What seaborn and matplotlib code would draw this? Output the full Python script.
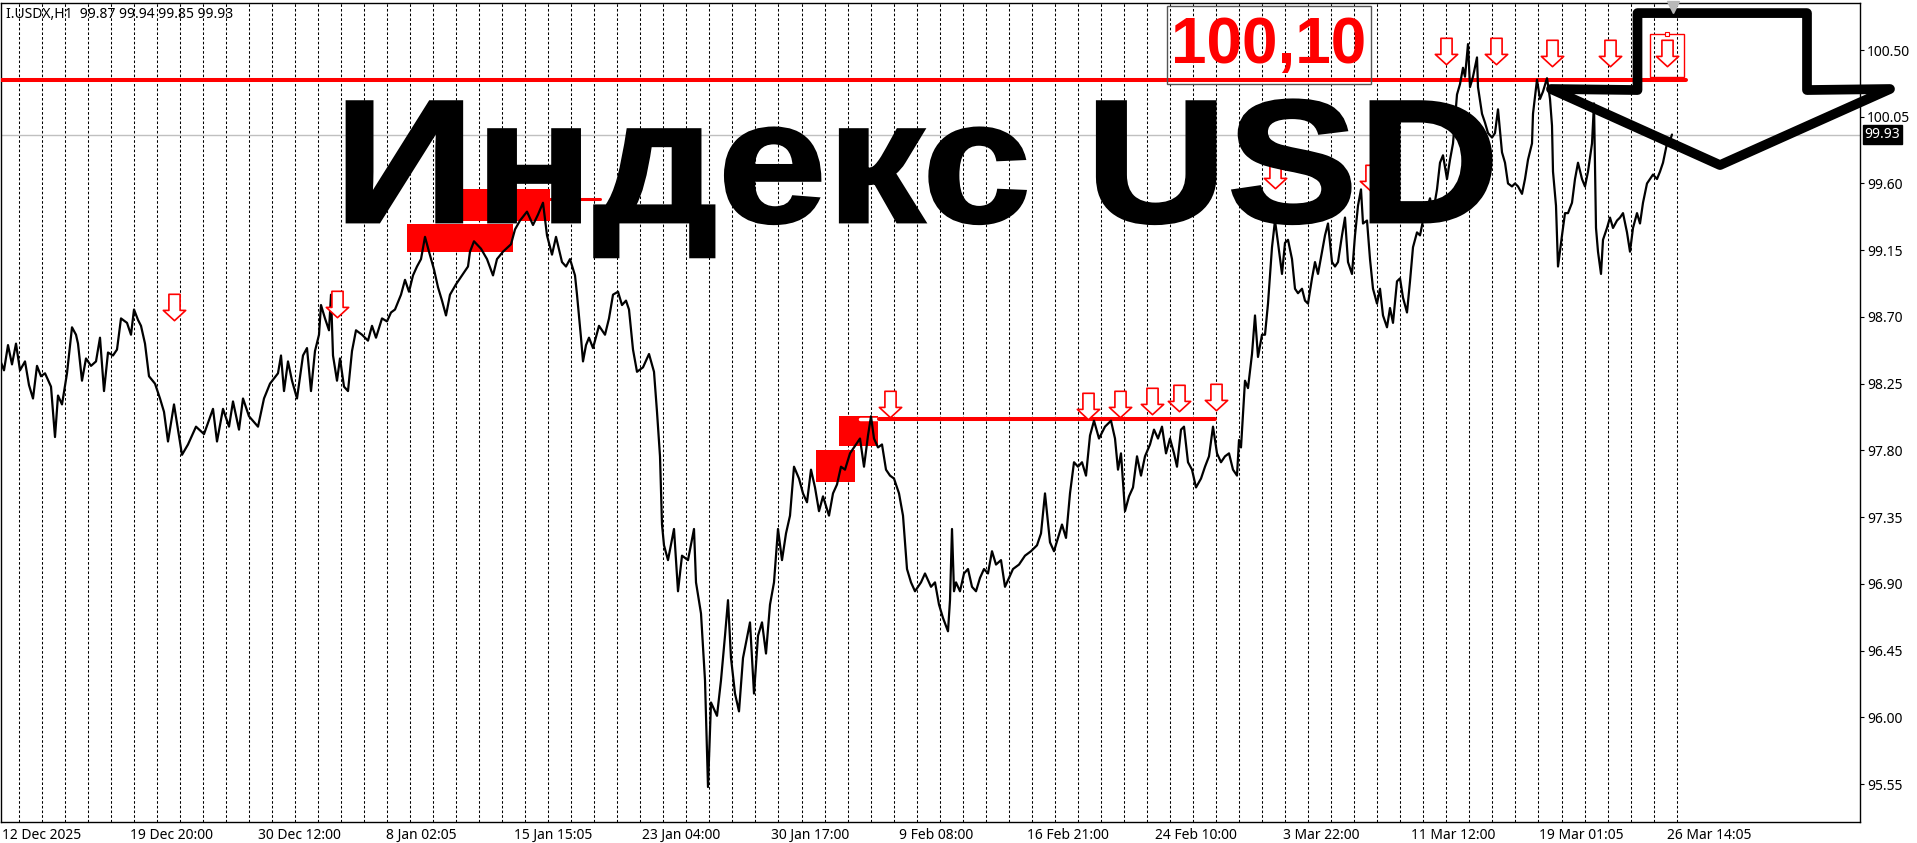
import matplotlib
matplotlib.use('Agg')
import matplotlib.pyplot as plt
import matplotlib.transforms as mtransforms
from matplotlib.patches import Rectangle, Polygon, PathPatch
from matplotlib.path import Path
from matplotlib.textpath import TextPath
from matplotlib.font_manager import FontProperties
import seaborn as sb
import pandas as pd
import numpy as np

# plot style
sb.set_style("white")
plt.rcParams['font.family'] = ['Noto Sans', 'DejaVu Sans']

# I.USDX H1 prices (bar index, price)
bar = [0, 4, 8, 12, 16, 20, 25, 29, 33, 37, 41, 45, 51, 55, 58, 62, 67, 72, 76, 78,
       82, 86, 91, 96, 100, 104, 108, 113, 117, 121, 127, 131, 134, 138, 141, 145, 149, 155, 160, 164,
       168, 174, 178, 182, 188, 196, 204, 213, 217, 223, 229, 233, 239, 243, 249, 258, 264, 270, 278, 281,
       284, 288, 292, 297, 303, 307, 311, 315, 319, 321, 325, 329, 331, 333, 337, 340, 344, 348, 352, 356,
       362, 368, 372, 376, 382, 387, 391, 395, 401, 405, 409, 413, 417, 421, 425, 429, 434, 438, 442, 446,
       450, 456, 462, 468, 470, 474, 481, 487, 493, 497, 503, 511, 515, 520, 527, 533, 538, 543, 547, 552,
       556, 562, 566, 570, 575, 577, 581, 583, 586, 589, 593, 599, 605, 609, 613, 618, 622, 626, 629, 633,
       637, 643, 649, 654, 657, 660, 662, 664, 668, 674, 678, 682, 688, 694, 696, 701, 705, 708, 711, 717,
       721, 725, 728, 731, 735, 739, 743, 750, 754, 758, 762, 766, 770, 774, 778, 782, 786, 790, 794, 799,
       803, 807, 811, 815, 819, 823, 829, 833, 837, 841, 845, 850, 856, 860, 864, 868, 871, 874, 878, 882,
       886, 890, 894, 899, 903, 907, 911, 915, 921, 925, 931, 935, 939, 943, 948, 950, 952, 954, 956, 960,
       964, 968, 972, 976, 980, 984, 988, 992, 996, 1001, 1005, 1009, 1013, 1019, 1025, 1031, 1037, 1041, 1045, 1050,
       1054, 1058, 1062, 1066, 1070, 1074, 1078, 1082, 1086, 1090, 1094, 1099, 1105, 1111, 1115, 1118, 1121, 1125, 1129, 1133,
       1137, 1141, 1145, 1150, 1154, 1158, 1162, 1166, 1170, 1174, 1177, 1181, 1184, 1188, 1192, 1196, 1201, 1205, 1209, 1213,
       1217, 1221, 1225, 1229, 1233, 1237, 1239, 1241, 1245, 1248, 1252, 1255, 1258, 1262, 1265, 1268, 1272, 1275, 1278, 1282,
       1285, 1288, 1292, 1295, 1298, 1302, 1305, 1308, 1312, 1315, 1318, 1322, 1325, 1328, 1332, 1335, 1338, 1342, 1345, 1348,
       1352, 1355, 1358, 1361, 1363, 1367, 1370, 1373, 1377, 1380, 1383, 1387, 1390, 1393, 1397, 1400, 1403, 1407, 1410, 1413,
       1417, 1420, 1423, 1427, 1430, 1433, 1437, 1440, 1443, 1447, 1450, 1453, 1457, 1460, 1463, 1465, 1468, 1470, 1473, 1477,
       1478, 1482, 1485, 1488, 1492, 1495, 1498, 1502, 1505, 1508, 1512, 1515, 1518, 1522, 1525, 1528, 1532, 1533, 1537, 1540,
       1543, 1547, 1550, 1552, 1553, 1556, 1558, 1562, 1565, 1568, 1572, 1575, 1578, 1582, 1585, 1588, 1592, 1594, 1596, 1598,
       1601, 1603, 1607, 1610, 1613, 1617, 1620, 1623, 1627, 1630, 1633, 1637, 1640, 1643, 1647, 1650, 1653, 1657, 1660, 1663,
       1667, 1670, 1672]
price = [98.41, 98.34, 98.51, 98.38, 98.52, 98.34, 98.40, 98.24, 98.15, 98.37, 98.30, 98.32, 98.23, 97.89, 98.17, 98.11, 98.32, 98.63, 98.58, 98.52,
         98.27, 98.42, 98.37, 98.40, 98.56, 98.20, 98.46, 98.44, 98.48, 98.69, 98.66, 98.58, 98.75, 98.68, 98.64, 98.52, 98.30, 98.25, 98.15, 98.06,
         97.86, 98.11, 97.94, 97.77, 97.84, 97.96, 97.91, 98.08, 97.86, 98.08, 97.96, 98.13, 97.94, 98.15, 98.03, 97.96, 98.15, 98.25, 98.32, 98.44,
         98.20, 98.40, 98.27, 98.15, 98.44, 98.49, 98.20, 98.47, 98.58, 98.78, 98.69, 98.61, 98.85, 98.44, 98.27, 98.42, 98.23, 98.20, 98.47, 98.61,
         98.58, 98.54, 98.64, 98.56, 98.69, 98.67, 98.73, 98.75, 98.85, 98.95, 98.87, 98.98, 99.04, 99.09, 99.24, 99.14, 99.02, 98.90, 98.81, 98.71,
         98.85, 98.92, 98.98, 99.04, 99.14, 99.21, 99.16, 99.09, 98.98, 99.09, 99.14, 99.19, 99.29, 99.35, 99.41, 99.32, 99.39, 99.47, 99.25, 99.12,
         99.24, 99.07, 99.04, 99.09, 98.98, 98.85, 98.56, 98.40, 98.51, 98.56, 98.49, 98.64, 98.58, 98.69, 98.85, 98.87, 98.78, 98.81, 98.75, 98.48,
         98.33, 98.36, 98.45, 98.33, 98.06, 97.76, 97.30, 97.16, 97.06, 97.27, 96.85, 97.09, 97.06, 97.27, 96.91, 96.70, 96.25, 95.53, 96.10, 96.01,
         96.25, 96.55, 96.79, 96.40, 96.16, 96.04, 96.40, 96.64, 96.16, 96.55, 96.64, 96.43, 96.76, 96.91, 97.27, 97.06, 97.24, 97.36, 97.69, 97.61,
         97.51, 97.45, 97.67, 97.55, 97.39, 97.49, 97.36, 97.51, 97.57, 97.69, 97.67, 97.78, 97.84, 97.88, 97.69, 97.90, 98.03, 97.88, 97.82, 97.84,
         97.67, 97.63, 97.61, 97.51, 97.36, 97.00, 96.91, 96.85, 96.91, 96.97, 96.88, 96.91, 96.76, 96.67, 96.58, 96.79, 97.27, 96.85, 96.91, 96.85,
         96.97, 97.00, 96.88, 96.85, 96.94, 97.00, 96.97, 97.12, 97.03, 97.06, 96.88, 96.94, 97.00, 97.03, 97.09, 97.12, 97.16, 97.24, 97.51, 97.18,
         97.12, 97.21, 97.30, 97.21, 97.51, 97.72, 97.69, 97.72, 97.63, 97.90, 98.00, 97.88, 97.96, 98.00, 97.88, 97.67, 97.78, 97.39, 97.49, 97.55,
         97.76, 97.63, 97.76, 97.84, 97.94, 97.88, 97.96, 97.78, 97.88, 97.78, 97.69, 97.94, 97.96, 97.72, 97.67, 97.55, 97.61, 97.69, 97.76, 97.96,
         97.78, 97.72, 97.76, 97.78, 97.67, 97.63, 97.87, 97.82, 98.27, 98.22, 98.45, 98.71, 98.43, 98.58, 98.58, 98.79, 99.17, 99.35, 99.20, 98.99,
         99.20, 99.22, 99.09, 98.89, 98.86, 98.89, 98.81, 98.79, 98.96, 99.07, 98.99, 99.14, 99.25, 99.33, 99.07, 99.04, 99.07, 99.25, 99.37, 99.07,
         98.99, 99.25, 99.45, 99.56, 99.33, 99.35, 99.09, 98.89, 98.79, 98.89, 98.71, 98.63, 98.76, 98.66, 98.94, 98.96, 98.83, 98.73, 98.94, 99.17,
         99.27, 99.25, 99.35, 99.43, 99.50, 99.40, 99.56, 99.74, 99.79, 99.63, 99.76, 99.87, 100.20, 100.27, 100.38, 100.32, 100.54, 100.25, 100.32, 100.45,
         100.25, 100.07, 100.01, 99.94, 99.91, 99.94, 100.10, 99.81, 99.74, 99.60, 99.58, 99.60, 99.58, 99.53, 99.63, 99.76, 99.87, 100.07, 100.30, 100.17,
         100.22, 100.31, 100.17, 99.99, 99.68, 99.45, 99.04, 99.25, 99.40, 99.40, 99.47, 99.63, 99.74, 99.63, 99.58, 99.68, 99.87, 100.14, 99.30, 99.14,
         98.99, 99.22, 99.30, 99.37, 99.30, 99.35, 99.37, 99.40, 99.27, 99.14, 99.30, 99.40, 99.33, 99.47, 99.60, 99.63, 99.66, 99.63, 99.68, 99.74,
         99.87, 99.89, 99.93]

# sell signal arrows
sig_bar = [174, 337, 890, 1088, 1120, 1152, 1179, 1216, 1275, 1371, 1446, 1496, 1552, 1610, 1667]
sig_price = [98.77, 98.79, 98.11, 98.10, 98.11, 98.13, 98.15, 98.16, 99.66, 99.64, 100.49, 100.49, 100.48, 100.48, 100.48]

# resistance levels
level_hi = 100.30
level_lo = 98.01
last_price = 99.93

y_ticks = [95.55, 96.00, 96.45, 96.90, 97.35, 97.80, 98.25, 98.70, 99.15, 99.60, 100.05, 100.50]
x_labels = ['12 Dec 2025', '19 Dec 20:00', '30 Dec 12:00', '8 Jan 02:05', '15 Jan 15:05', '23 Jan 04:00',
            '30 Jan 17:00', '9 Feb 08:00', '16 Feb 21:00', '24 Feb 10:00', '3 Mar 22:00', '11 Mar 12:00',
            '19 Mar 01:05', '26 Mar 14:05']

df = pd.DataFrame({'bar': bar, 'price': price})

W, H = 1917, 843
fig = plt.figure(figsize=(W / 100, H / 100), dpi=100)
ax = fig.add_axes([1 / W, 21 / H, 1859 / W, 819 / H])
ax.set_xlim(1, 1860)
ax.set_ylim(95.294, 100.817)
px_per_price = 819 / (100.817 - 95.294)

# vertical dashed grid
for gx in 18.5 + 23.03 * np.arange(73):
    ax.axvline(gx, color='black', lw=0.75, ls=(0, (2.5, 2)), zorder=1)

# current price line
ax.axhline(last_price, color='#c0c0c0', lw=1, zorder=1.5)

# red zones
zones = [(407, 513, 99.14, 99.33), (463, 550, 99.35, 99.56), (816, 855, 97.59, 97.80), (839, 878, 97.83, 98.03)]
for x0, x1, y0, y1 in zones:
    ax.add_patch(Rectangle((x0, y0), x1 - x0, y1 - y0, color='#ff0000', lw=0, zorder=2))
ax.plot([550, 600], [99.495, 99.495], color='#ff0000', lw=2.2, zorder=2)
ax.plot([860, 878], [level_lo, level_lo], color='white', lw=2.5, zorder=2.5)

ax.plot([1, 1686], [level_hi, level_hi], color='#ff0000', lw=2.9, zorder=3)
ax.plot([879, 1215], [level_lo, level_lo], color='#ff0000', lw=2.9, zorder=3)

# price line
sb.lineplot(data=df, x='bar', y='price', color='black', linewidth=1.6,
            estimator=None, sort=False, ax=ax, zorder=4)

# down arrows
arrow = Path([(-0.25, 0.59), (0.25, 0.59), (0.25, -0.13), (0.5, -0.13), (0, -0.59),
              (-0.5, -0.13), (-0.25, -0.13), (-0.25, 0.59)], closed=True)
ax.plot(sig_bar, sig_price, ls='none', marker=arrow, markersize=19,
        markerfacecolor='white', markeredgecolor='#ff0000', markeredgewidth=1.2, zorder=5)
ax.add_patch(Rectangle((1650, 100.32), 34, 0.29, fill=False, edgecolor='#ff0000', lw=1, zorder=5))
ax.plot([1667], [100.61], marker='s', markersize=3.5, markerfacecolor='white',
        markeredgecolor='#ff0000', markeredgewidth=0.8, zorder=5)

# big title, a bit wider than the stock bold face
tp = TextPath((0, 0), 'Индекс USD', size=1, prop=FontProperties(family='Liberation Sans', weight='bold'))
em_x, em_y = 196, 175
title_tr = mtransforms.Affine2D().scale(em_x, em_y / px_per_price).translate(334, 99.34) + ax.transData
ax.add_patch(PathPatch(tp, transform=title_tr, facecolor='black', edgecolor='black', lw=2, zorder=6))

# level label
ax.add_patch(Rectangle((1167, 100.27), 204, 0.53, fill=False, edgecolor='#555555', lw=1, zorder=6))
ax.text(1269, 100.53, '100,10', fontsize=46, fontweight='bold', family='Liberation Sans',
        color='#ff0000', ha='center', va='center', zorder=7)

# big outlined arrow
big = Polygon([(1637.5, 100.749), (1807, 100.749), (1807, 100.23), (1890, 100.237),
               (1720, 99.724), (1551, 100.237), (1637.5, 100.23)], closed=True,
              fill=False, edgecolor='black', lw=7, joinstyle='round', clip_on=False, zorder=8)
ax.add_patch(big)

# chart shift marker
ax.plot([1673], [100.79], marker='v', markersize=9, color='#b8b8b8', ls='none', clip_on=False, zorder=8)

# axes
ax.yaxis.tick_right()
ax.set_yticks(y_ticks)
ax.set_yticklabels(['%.2f' % v for v in y_ticks])
ax.set_xticks([2 + 128.1 * i for i in range(len(x_labels))])
ax.set_xticklabels(x_labels)
for lbl in ax.get_xticklabels():
    lbl.set_horizontalalignment('left')
ax.tick_params(axis='y', direction='out', length=3, width=0.8, pad=2, labelsize=10, colors='black')
ax.tick_params(axis='x', direction='out', length=3, width=0.8, pad=1.5, labelsize=10, colors='black')
ax.set_xlabel('')
ax.set_ylabel('')
for s in ax.spines.values():
    s.set_color('black')
    s.set_linewidth(1)

# last price tag
tr = mtransforms.blended_transform_factory(ax.transAxes, ax.transData)
ax.text(1.0025, last_price, '99.93', transform=tr, color='white', fontsize=10, ha='left', va='center',
        bbox=dict(facecolor='black', edgecolor='black', pad=1.2), zorder=9)

fig.text(6 / W, 1 - 15 / H, 'I.USDX,H1  99.87 99.94 99.85 99.93', fontsize=10, color='black',
         ha='left', va='center')

plt.savefig('out.png', dpi=100)
